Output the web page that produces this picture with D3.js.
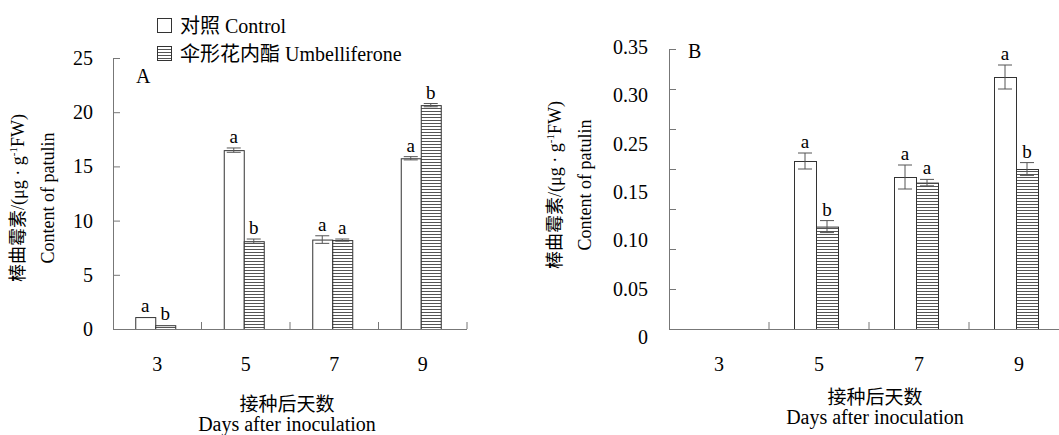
<!DOCTYPE html>
<html>
<head>
<meta charset="utf-8">
<script src="https://cdn.jsdelivr.net/npm/d3@7"></script>
<style>
  body { margin: 0; background: #fff; }
  svg text { font-family: "Liberation Serif", "Times New Roman", serif; fill: #000; }
  svg .cjk { font-family: "Noto Sans CJK SC", sans-serif; }
  svg .lat { font-family: "Liberation Serif", "Times New Roman", serif; }
</style>
</head>
<body>
<svg id="chart"></svg>
<script>
var width = 1059;
var height = 435;

// data
var days = [3, 5, 7, 9];

var aControl = [1.1, 16.5, 8.25, 15.75];
var aControlErr = [0, 0.2, 0.35, 0.15];
var aControlSig = ["a", "a", "a", "a"];
var aUmb = [0.35, 8.1, 8.2, 20.65];
var aUmbErr = [0, 0.2, 0.1, 0.15];
var aUmbSig = ["b", "b", "a", "b"];

var bControl = [null, 0.21, 0.19, 0.315];
var bControlErr = [null, 0.01, 0.015, 0.015];
var bControlSig = [null, "a", "a", "a"];
var bUmb = [null, 0.128, 0.183, 0.20];
var bUmbErr = [null, 0.0075, 0.004, 0.008];
var bUmbSig = [null, "b", "a", "b"];

var aTicks = [0, 5, 10, 15, 20, 25];
var bTicks = [0, 0.05, 0.10, 0.15, 0.20, 0.25, 0.30, 0.35];
// tick labels as printed in panel B (0.20 is missing in the original)
var bLabels = ["0", "0.05", "0.10", "0.15", "0.25", "0.30", "0.35"];

var legendLabels = ["对照 Control", "伞形花内酯 Umbelliferone"];

var svg = d3.select("#chart")
    .attr("width", width)
    .attr("height", height);

// split a string into CJK / latin runs so each gets its own font
function mixedText(sel, str) {
  var runs = str.match(/[\u3000-\u9fff]+|[^\u3000-\u9fff]+/g);
  runs.forEach(function(r) {
    sel.append("tspan")
      .attr("class", /[\u3000-\u9fff]/.test(r) ? "cjk" : "lat")
      .text(r);
  });
}

var defs = svg.append("defs");
var pat = defs.append("pattern")
    .attr("id", "hatch")
    .attr("patternUnits", "userSpaceOnUse")
    .attr("width", 6)
    .attr("height", 3);
pat.append("rect").attr("width", 6).attr("height", 3).attr("fill", "#fff");
pat.append("line")
    .attr("x1", 0).attr("x2", 6)
    .attr("y1", 0.5).attr("y2", 0.5)
    .attr("stroke", "#555")
    .attr("stroke-width", 1);

function drawPanel(p) {
  var g = svg.append("g");

  var x = d3.scaleBand().domain(days).range(p.xRange).padding(0);
  var y = p.y;

  // bars
  var series = [
    { vals: p.control, errs: p.controlErr, sig: p.controlSig, fill: "#fff", off: -p.barW },
    { vals: p.umb, errs: p.umbErr, sig: p.umbSig, fill: "url(#hatch)", off: 0 }
  ];

  series.forEach(function(s) {
    var rows = days.map(function(d, i) {
      return { day: d, v: s.vals[i], e: s.errs[i], sig: s.sig[i] };
    }).filter(function(r) { return r.v != null; });

    var bx = function(r) { return x(r.day) + x.bandwidth() / 2 + p.shift + s.off; };

    g.selectAll(null)
      .data(rows)
      .enter()
      .append("rect")
      .attr("x", function(r) { return bx(r) + 0.5; })
      .attr("y", function(r) { return y(r.v) + 0.5; })
      .attr("width", p.barW)
      .attr("height", function(r) { return y(0) - y(r.v); })
      .attr("fill", s.fill)
      .attr("stroke", "#333")
      .attr("stroke-width", 1);

    var eb = g.selectAll(null)
      .data(rows.filter(function(r) { return r.e > 0; }))
      .enter()
      .append("g")
      .attr("stroke", "#555")
      .attr("stroke-width", 1);
    eb.append("line")
      .attr("x1", function(r) { return bx(r) + p.barW / 2; })
      .attr("x2", function(r) { return bx(r) + p.barW / 2; })
      .attr("y1", function(r) { return y(r.v + r.e); })
      .attr("y2", function(r) { return y(r.v - r.e); });
    [1, -1].forEach(function(sg) {
      eb.append("line")
        .attr("x1", function(r) { return bx(r) + p.barW / 2 - 7; })
        .attr("x2", function(r) { return bx(r) + p.barW / 2 + 7; })
        .attr("y1", function(r) { return y(r.v + sg * r.e); })
        .attr("y2", function(r) { return y(r.v + sg * r.e); });
    });

    g.selectAll(null)
      .data(rows)
      .enter()
      .append("text")
      .attr("x", function(r) { return bx(r) + p.barW / 2; })
      .attr("y", function(r) { return y(r.v + r.e) - 5; })
      .attr("text-anchor", "middle")
      .style("font-size", "19px")
      .text(function(r) { return r.sig; });
  });

  // y axis
  var yAxis = g.append("g")
    .attr("transform", "translate(" + p.xRange[0] + ",0)")
    .call(d3.axisLeft(y)
      .tickValues(p.ticks)
      .tickSizeInner(-7)
      .tickSizeOuter(0)
      .tickPadding(20)
      .tickFormat(p.tickFormat));
  yAxis.selectAll("line, path").attr("stroke", "#777");
  yAxis.selectAll("text").style("font-size", "20px").attr("fill", "#000");

  if (p.labelScale) {
    var lab = g.append("g")
      .attr("transform", "translate(" + p.xRange[0] + ",0)")
      .call(d3.axisLeft(p.labelScale)
        .tickValues(d3.range(bLabels.length))
        .tickSize(0)
        .tickPadding(21)
        .tickFormat(function(i) { return bLabels[i]; }));
    lab.select(".domain").remove();
    lab.selectAll("text").style("font-size", "20px").attr("fill", "#000");
  }

  // x axis
  var xAxis = g.append("g")
    .attr("transform", "translate(0," + y(0) + ")")
    .call(d3.axisBottom(x).tickSize(0).tickPadding(28));
  xAxis.select(".domain").attr("stroke", "#777").attr("d", "M" + p.xRange[0] + ",0.5H" + p.xRange[1]);
  xAxis.selectAll("text").style("font-size", "20px").attr("fill", "#000");

  // group separators
  g.selectAll(null)
    .data(days.slice(1).concat(["end"]))
    .enter()
    .append("line")
    .attr("x1", function(d) { return d === "end" ? p.xRange[1] : x(d); })
    .attr("x2", function(d) { return d === "end" ? p.xRange[1] : x(d); })
    .attr("y1", y(0))
    .attr("y2", y(0) - 7)
    .attr("stroke", "#777");

  // panel letter
  g.append("text")
    .attr("x", p.letterPos[0])
    .attr("y", p.letterPos[1])
    .style("font-size", "20px")
    .text(p.letter);

  // y title
  var yt = g.append("text")
    .attr("transform", "translate(" + p.yTitle[0] + "," + p.yTitle[2] + ") rotate(-90)")
    .attr("text-anchor", "middle")
    .attr("dy", "0.35em")
    .style("font-size", "18px");
  yt.append("tspan").attr("class", "cjk").text("棒曲霉素");
  yt.append("tspan").attr("class", "lat").text("/(μg · g");
  yt.append("tspan").attr("class", "lat").attr("dy", -7).style("font-size", "11px").text("-1");
  yt.append("tspan").attr("class", "lat").attr("dy", 7).text("FW)");

  g.append("text")
    .attr("class", "lat")
    .attr("transform", "translate(" + p.yTitle[1] + "," + p.yTitle[2] + ") rotate(-90)")
    .attr("text-anchor", "middle")
    .attr("dy", "0.35em")
    .style("font-size", "18px")
    .text("Content of patulin");

  // x title
  g.append("text")
    .attr("class", "cjk")
    .attr("x", p.xTitle[0])
    .attr("y", p.xTitle[1])
    .attr("text-anchor", "middle")
    .attr("dy", "0.35em")
    .style("font-size", "19px")
    .text("接种后天数");
  g.append("text")
    .attr("class", "lat")
    .attr("x", p.xTitle[0])
    .attr("y", p.xTitle[2])
    .attr("text-anchor", "middle")
    .attr("dy", "0.35em")
    .style("font-size", "20px")
    .text("Days after inoculation");
}

drawPanel({
  xRange: [113, 467],
  y: d3.scaleLinear().domain([0, 25]).range([329, 58]),
  ticks: aTicks,
  tickFormat: d3.format("d"),
  barW: 20,
  shift: -2,
  control: aControl, controlErr: aControlErr, controlSig: aControlSig,
  umb: aUmb, umbErr: aUmbErr, umbSig: aUmbSig,
  letter: "A", letterPos: [136, 83],
  yTitle: [18, 48, 198],
  xTitle: [287, 404, 424]
});

drawPanel({
  xRange: [669, 1069],
  y: d3.scaleLinear().domain([0, 0.35]).range([329, 49]),
  ticks: bTicks,
  tickFormat: function() { return ""; },
  labelScale: d3.scaleLinear().domain([0, 6]).range([337, 47]),
  barW: 22,
  shift: -3,
  control: bControl, controlErr: bControlErr, controlSig: bControlSig,
  umb: bUmb, umbErr: bUmbErr, umbSig: bUmbSig,
  letter: "B", letterPos: [688, 58],
  yTitle: [555, 585, 185],
  xTitle: [875, 397, 417]
});

// legend
var legend = svg.append("g");
var items = legend.selectAll(null)
  .data(legendLabels)
  .enter()
  .append("g")
  .attr("transform", function(d, i) { return "translate(157," + (18 + i * 28) + ")"; });
items.append("rect")
  .attr("x", 0.5).attr("y", 0.5)
  .attr("width", 14).attr("height", 14)
  .attr("fill", function(d, i) { return i === 0 ? "#fff" : "url(#hatch)"; })
  .attr("stroke", "#333");
items.append("text")
  .attr("x", 23)
  .attr("y", 7.5)
  .attr("dy", "0.35em")
  .style("font-size", "20px")
  .each(function(d) { mixedText(d3.select(this), d); });
</script>
</body>
</html>
